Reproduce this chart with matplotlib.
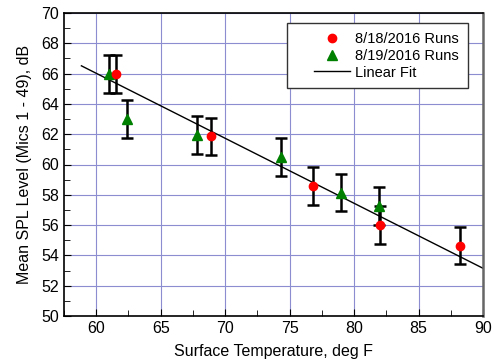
import matplotlib
matplotlib.use("Agg")
import matplotlib.pyplot as plt
import numpy as np
from matplotlib.ticker import MultipleLocator
from matplotlib.patches import Rectangle

plt.rcParams['font.family'] = ['Liberation Sans', 'DejaVu Sans']

# 8/18/2016 runs
x18 = [61.5, 68.9, 76.8, 82.0, 88.2]
y18 = [66.0, 61.85, 58.6, 56.0, 54.65]
e18 = [1.25, 1.25, 1.25, 1.25, 1.25]

# 8/19/2016 runs
x19 = [61.0, 62.4, 67.8, 74.3, 79.0, 81.9]
y19 = [66.0, 63.0, 61.95, 60.5, 58.15, 57.25]
e19 = [1.25, 1.25, 1.25, 1.25, 1.25, 1.25]

# linear fit
fit_slope = -0.429
fit_intercept = 91.76
fit_x = [58.85, 90.0]

fig = plt.figure(figsize=(4.94, 3.62), dpi=100)
ax = fig.add_axes([64/494, 1-316/362, (483-64)/494, (316-13)/362])

grid_c = '#8c8cd0'
ax.set_xlim(57.5, 90)
ax.set_ylim(50, 70)
ax.xaxis.set_major_locator(MultipleLocator(5))
ax.xaxis.set_minor_locator(MultipleLocator(2.5))
ax.yaxis.set_major_locator(MultipleLocator(2))
ax.yaxis.set_minor_locator(MultipleLocator(1))
ax.grid(True, which='major', color=grid_c, linewidth=0.8)
ax.set_axisbelow(True)
ax.tick_params(which='both', direction='in', labelsize=11.5, colors='black')
ax.tick_params(which='major', length=5)
ax.tick_params(which='minor', length=4)
for s in ax.spines.values():
    s.set_linewidth(1.2)
ax.spines['right'].set_color('#666666')
ax.spines['right'].set_linewidth(1.8)

fx = np.array(fit_x)
line, = ax.plot(fx, fit_slope * fx + fit_intercept, color='black', linewidth=1.0, zorder=2)

ax.errorbar(x19, y19, yerr=e19, fmt='none', ecolor='black', elinewidth=1.8,
            capsize=4, capthick=1.8, zorder=3)
ax.errorbar(x18, y18, yerr=e18, fmt='none', ecolor='black', elinewidth=1.8,
            capsize=4, capthick=1.8, zorder=3)
p19, = ax.plot(x19, y19, linestyle='none', marker='^', color='#008000', markersize=7.5, zorder=4)
p18, = ax.plot(x18, y18, linestyle='none', marker='o', color='#ff0000', markersize=6, zorder=5)

leg = ax.legend([p18, p19, line], ['8/18/2016 Runs', '8/19/2016 Runs', 'Linear Fit'],
                loc='upper right', bbox_to_anchor=(0.964, 0.967), borderaxespad=0,
                fontsize=10.5, frameon=False,
                handlelength=2.5, handletextpad=0.35, borderpad=0.6,
                labelspacing=0.2)
leg.set_zorder(10)

ax.set_xlabel('Surface Temperature, deg F', fontsize=11.5, labelpad=6)
ax.set_ylabel('Mean SPL Level (Mics 1 - 49), dB', fontsize=11.5, labelpad=7)

# legend frame with extra left padding
fig.canvas.draw()
bb = leg.get_window_extent()
inv = ax.transAxes.inverted()
(x0, y0) = inv.transform((bb.x0 - 18, bb.y0))
(x1, y1) = inv.transform((bb.x1, bb.y1))
ax.add_patch(Rectangle((x0, y0), x1 - x0, y1 - y0, transform=ax.transAxes,
                       facecolor='white', edgecolor='#333333', linewidth=1.0, zorder=9))

fig.savefig('out.png', dpi=100)
